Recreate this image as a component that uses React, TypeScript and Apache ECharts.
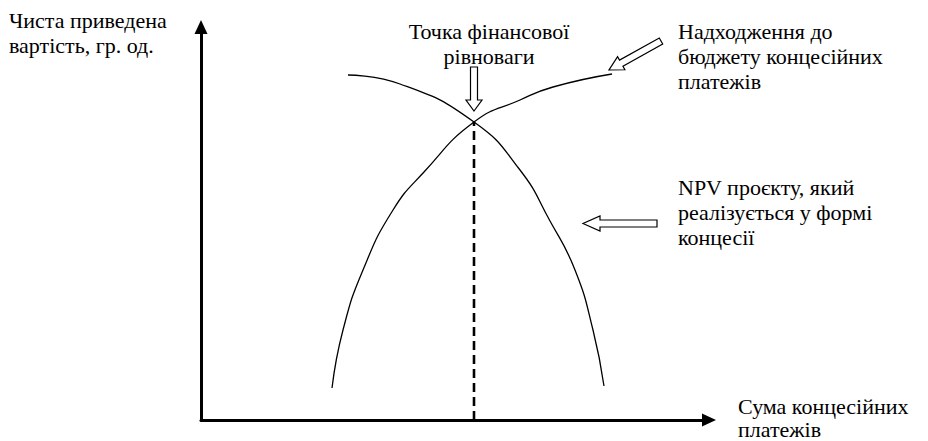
import React, { useEffect, useRef } from "react";
import * as echarts from "echarts";

// Curve samples (x: payment sum, y: net present value), arbitrary units
const npvX = [147, 199, 273, 319, 349, 374, 392, 403];
const npvY = [345, 336, 298, 250, 199, 150, 90, 34];
const budgetX = [131, 142, 162, 192, 223, 273, 319, 352, 411];
const budgetY = [32, 90, 150, 210, 248, 298, 320, 333, 346];
const equilibriumX = 273;
const equilibriumY = 298;
const xMax = 508;
const yMax = 393;

const yAxisLabel = "Чиста приведена\nвартість, гр. од.";
const xAxisLabel = "Сума концесійних\nплатежів";
const pointLabel = "Точка фінансової\nрівноваги";
const budgetLabel = "Надходження до\nбюджету концесійних\nплатежів";
const npvLabel = "NPV проєкту, який\nреалізується у формі\nконцесії";

const FONT = "22px 'Liberation Serif', 'Times New Roman', serif";

function hollowArrow(tip: number[], tail: number[], headLen: number, headHalf: number, shaftHalf: number) {
  const dx = tail[0] - tip[0];
  const dy = tail[1] - tip[1];
  const L = Math.sqrt(dx * dx + dy * dy);
  const ux = dx / L, uy = dy / L;
  const nx = -uy, ny = ux;
  const p = (a: number, b: number) => [tip[0] + ux * a + nx * b, tip[1] + uy * a + ny * b];
  return {
    type: "polygon",
    shape: {
      points: [
        tip,
        p(headLen, headHalf),
        p(headLen, shaftHalf),
        p(L, shaftHalf),
        p(L, -shaftHalf),
        p(headLen, -shaftHalf),
        p(headLen, -headHalf),
      ],
    },
    style: { fill: "#fff", stroke: "#000", lineWidth: 1.2 },
    z: 10,
  };
}

function textEl(text: string, x: number, y: number, align: string, lh = 25) {
  return {
    type: "text",
    x,
    y,
    style: {
      text,
      fill: "#000",
      font: FONT,
      lineHeight: lh,
      textAlign: align,
      textVerticalAlign: "top",
    },
    z: 10,
  };
}

export default function App() {
  const ref = useRef<HTMLDivElement>(null);
  useEffect(() => {
    if (!ref.current) return;
    const chart = echarts.init(ref.current, null, { renderer: "svg" });
    const axisCommon = {
      type: "value",
      min: 0,
      splitLine: { show: false },
      axisTick: { show: false },
      axisLabel: { show: false },
      axisLine: {
        show: true,
        onZero: false,
        symbol: ["none", "triangle"],
        symbolSize: [13, 14],
        lineStyle: { color: "#000", width: 3 },
      },
    };
    chart.setOption({
      animation: false,
      backgroundColor: "#fff",
      grid: { left: 201, right: 928 - 709, top: 27, bottom: 21 },
      xAxis: { ...axisCommon, max: xMax },
      yAxis: { ...axisCommon, max: yMax },
      series: [
        {
          type: "line",
          smooth: 0.5,
          symbol: "none",
          data: npvX.map((x, i) => [x, npvY[i]]),
          lineStyle: { color: "#000", width: 1.3 },
        },
        {
          type: "line",
          smooth: 0.5,
          symbol: "none",
          data: budgetX.map((x, i) => [x, budgetY[i]]),
          lineStyle: { color: "#000", width: 1.3 },
        },
        {
          type: "line",
          symbol: "none",
          data: [
            [equilibriumX, 0],
            [equilibriumX, equilibriumY],
          ],
          lineStyle: { color: "#000", width: 2.6, type: [9, 5] },
        },
      ],
      graphic: [
        textEl(yAxisLabel, 9, 7.5, "left"),
        textEl(pointLabel, 489, 18.5, "center"),
        textEl(budgetLabel, 678, 18.5, "left"),
        textEl(npvLabel, 678, 174.5, "left"),
        textEl(xAxisLabel, 738, 395, "left", 23),
        hollowArrow([474, 111], [474, 67], 11, 8, 3.5),
        hollowArrow([583, 223.5], [657, 223.5], 17, 7.5, 3.5),
        hollowArrow([609, 70], [661, 41], 14, 7.5, 3.5),
      ],
    });
    return () => chart.dispose();
  }, []);
  return (
    <div
      ref={ref}
      style={{ position: "fixed", left: 0, top: 0, width: 928, height: 441, background: "#fff" }}
    />
  );
}
